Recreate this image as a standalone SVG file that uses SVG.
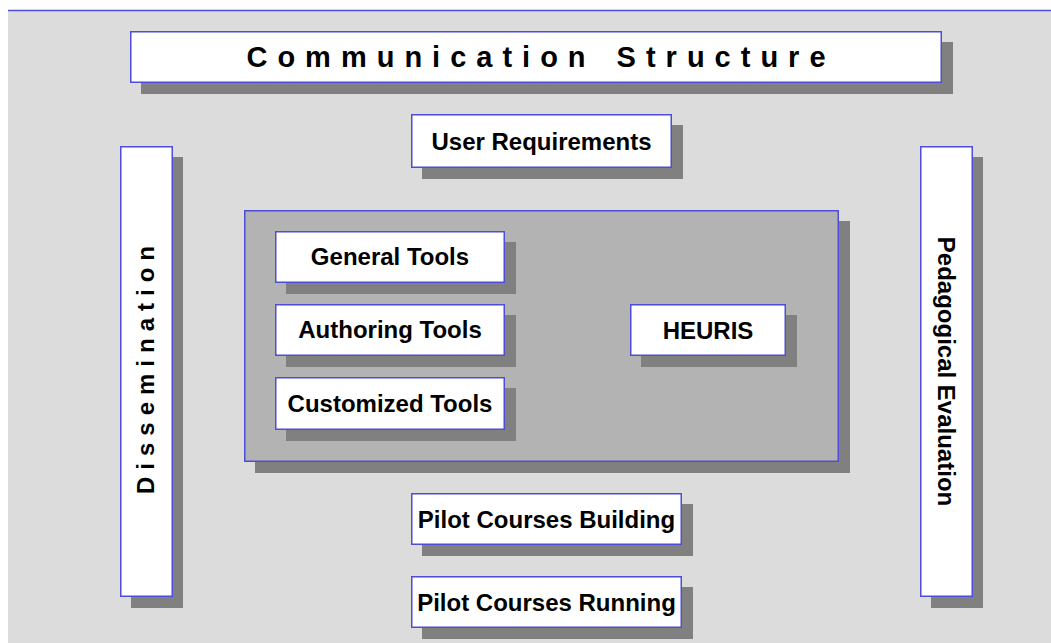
<svg xmlns="http://www.w3.org/2000/svg" width="1051" height="643" viewBox="0 0 1051 643">
<style>
.box{fill:#ffffff;stroke:#4d4dd9;stroke-width:1.5}
.main{fill:#b3b3b3;stroke:#4d4dd9;stroke-width:1.5}
.sh{fill:#808080}
.t{font-family:"Liberation Sans",Arial,sans-serif;font-weight:bold;font-size:24px;fill:#000;text-anchor:middle}
</style>
<rect x="0" y="0" width="1051" height="643" fill="#ffffff"/>
<rect x="8" y="11" width="1043" height="632" fill="#dcdcdc"/>
<line x1="8" y1="10.5" x2="1051" y2="10.5" stroke="#4d4dd9" stroke-width="1.5"/>
<g id="connectors"></g>
<g id="title">
<rect class="sh" x="141" y="42" width="812" height="52"/>
<rect class="box" x="130.75" y="31.75" width="810.5" height="50.5"/>
<text class="t" x="541" y="67" style="font-size:29px;letter-spacing:10px;word-spacing:3px">Communication Structure</text>
</g>
<g id="user-requirements">
<rect class="sh" x="422" y="125" width="261" height="54"/>
<rect class="box" x="411.75" y="114.75" width="259.5" height="52.5"/>
<text class="t" x="541.5" y="149.5">User Requirements</text>
</g>
<g id="dissemination">
<rect class="sh" x="131" y="157" width="52" height="451"/>
<rect class="box" x="120.75" y="146.75" width="51.5" height="449.5"/>
<text class="t" transform="translate(154,370) rotate(-90)" x="3.5" y="0" style="letter-spacing:7px">Dissemination</text>
</g>
<g id="pedagogical-evaluation">
<rect class="sh" x="931" y="157" width="52" height="451"/>
<rect class="box" x="920.75" y="146.75" width="51.5" height="449.5"/>
<text class="t" transform="translate(937.5,371.5) rotate(90)" x="0" y="0">Pedagogical Evaluation</text>
</g>
<g id="tools-area">
<rect class="sh" x="255" y="221" width="595" height="252"/>
<rect class="main" x="244.75" y="210.75" width="593.5" height="250.5"/>
</g>
<g id="general-tools">
<rect class="sh" x="286" y="242" width="230" height="52"/>
<rect class="box" x="275.75" y="231.75" width="228.5" height="50.5"/>
<text class="t" x="390" y="265">General Tools</text>
</g>
<g id="authoring-tools">
<rect class="sh" x="286" y="315" width="230" height="52"/>
<rect class="box" x="275.75" y="304.75" width="228.5" height="50.5"/>
<text class="t" x="390" y="338">Authoring Tools</text>
</g>
<g id="customized-tools">
<rect class="sh" x="286" y="388" width="230" height="53"/>
<rect class="box" x="275.75" y="377.75" width="228.5" height="51.5"/>
<text class="t" x="390" y="411.5">Customized Tools</text>
</g>
<g id="heuris">
<rect class="sh" x="641" y="315" width="156" height="52"/>
<rect class="box" x="630.75" y="304.75" width="154.5" height="50.5"/>
<text class="t" x="708" y="338.5">HEURIS</text>
</g>
<g id="pilot-building">
<rect class="sh" x="422" y="504" width="271" height="52"/>
<rect class="box" x="411.75" y="493.75" width="269.5" height="50.5"/>
<text class="t" x="546.5" y="527.5">Pilot Courses Building</text>
</g>
<g id="pilot-running">
<rect class="sh" x="422" y="587" width="271" height="52"/>
<rect class="box" x="411.75" y="576.75" width="269.5" height="50.5"/>
<text class="t" x="546.5" y="610.5">Pilot Courses Running</text>
</g>
</svg>
